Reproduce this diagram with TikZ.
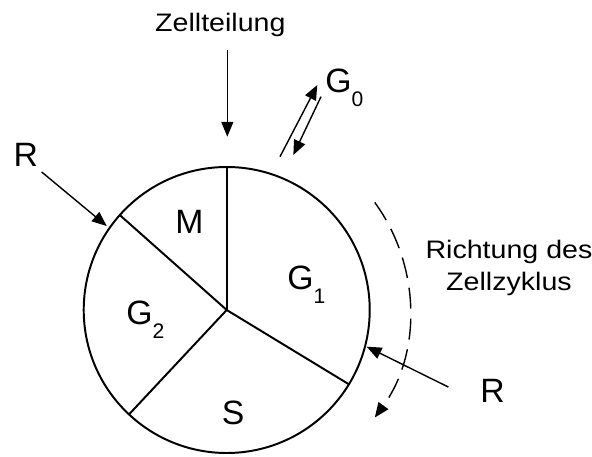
\documentclass[tikz,border=0pt]{standalone}
\usepackage{fontspec}
\setmainfont{Liberation Sans}
\newfontfamily\widefont{Liberation Sans}[FakeStretch=1.13]
\usepackage{tikz}
\usetikzlibrary{arrows.meta}
\definecolor{ink}{HTML}{000000}
\newcommand{\gphase}[1]{G\raisebox{-9.5pt}{\fontsize{15}{15}\selectfont #1}}

\begin{document}
\begin{tikzpicture}[
    big/.style={font=\fontsize{24}{28}\selectfont, inner sep=0pt, anchor=base west, color=ink},
    small/.style={font=\widefont\fontsize{18}{22.5}\selectfont, inner sep=0pt, color=ink},
    ring/.style={line width=1.4pt, color=ink},
    arr/.style={line width=1pt, color=ink, -{Triangle[length=10.5pt, width=8.5pt]}},
    cycle dash/.style={arr, dash pattern=on 15pt off 7pt}
  ]
    \useasboundingbox (0,0) rectangle (14.8,11.425);
    % wheel with the four phases
    \coordinate (C) at (5.668,3.675);
    \draw[ring] (C) circle (3.575);
    \foreach \a in {90,138.4,226.9,-31.3}
      \draw[ring] (C) -- ++(\a:3.575);
    \node[big] (m) at (4.375,5.592) {M};
    \node[big] (g1) at (7.175,4.175) {\gphase{1}};
    \node[big] (g2) at (3.15,3.3) {\gphase{2}};
    \node[big] (s) at (5.5425,0.8) {S};

    % labels outside
    \node[small, anchor=base] (div) at (5.51,10.64) {Zellteilung};
    \node[big] (g0) at (8.125,9.1) {\gphase{0}};
    \node[big] (rl) at (0.333,7.258) {R};
    \node[big] (rr) at (12.0,1.358) {R};
    \node[small, align=center] (dir) at (12.725,4.733) {Richtung des\\Zellzyklus};

    % arrow ends
    \coordinate (divin) at (5.683,8.008);
    \coordinate (rlin) at (2.668,5.775);
    \coordinate (rrin) at (9.168,2.758);
    \coordinate (g0out) at (7.0,7.508);
    \coordinate (g0top) at (7.933,9.3);
    \coordinate (g0from) at (8.025,9.008);
    \coordinate (g0in) at (7.333,7.55);

    \draw[arr, shorten <=9.4pt] (div.south -| divin) -- (divin);
    \draw[arr] ([shift={(0.085,-0.125)}]rl.south east) -- (rlin);
    \draw[arr] ([shift={(-0.79,0.1)}]rr.west) -- (rrin);
    \draw[arr] (g0out) -- (g0top);
    \draw[arr] (g0from) -- (g0in);
    \draw[cycle dash] ([shift={(36:4.575)}]C) arc[start angle=36, end angle=-36, radius=4.575];
  \end{tikzpicture}
\end{document}
